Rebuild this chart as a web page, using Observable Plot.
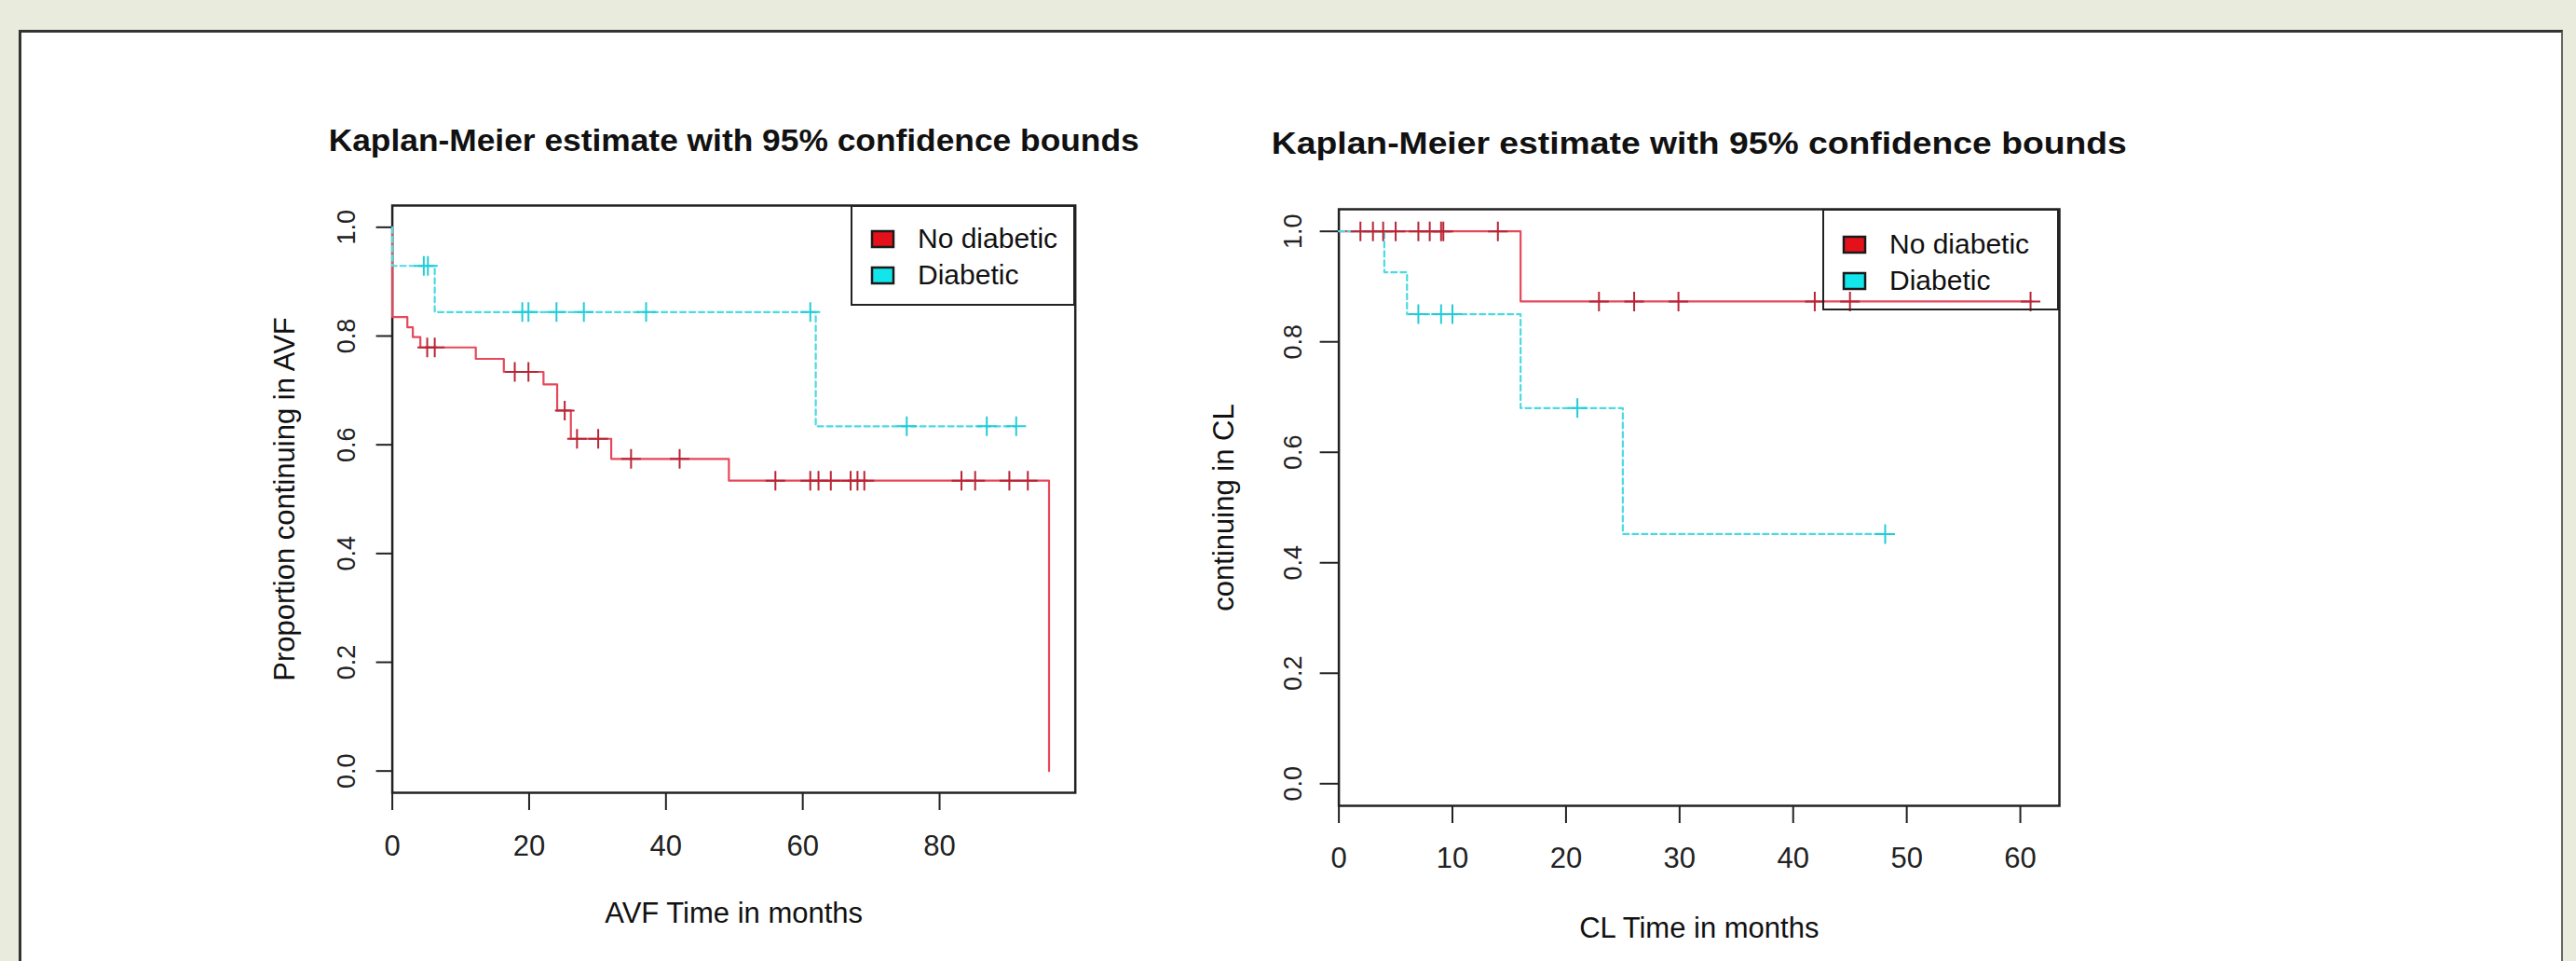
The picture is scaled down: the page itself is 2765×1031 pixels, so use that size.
<!DOCTYPE html>
<html>
<head>
<meta charset="utf-8">
<script src="https://cdn.jsdelivr.net/npm/d3@7"></script>
<script src="https://cdn.jsdelivr.net/npm/@observablehq/plot@0.6"></script>
<style>
html, body { margin: 0; padding: 0; }
body { width: 2765px; height: 1031px; background: #e9ecdd; position: relative; overflow: hidden;
       font-family: "Liberation Sans", Arial, Helvetica, sans-serif; }
#panel { position: absolute; left: 20px; top: 32px; width: 2731px; height: 1100px; background: #fff;
         border-top: 3px solid #333; border-left: 3px solid #333; border-right: 2px solid #666; box-sizing: border-box; }
.chart { position: absolute; top: 0; }
.legendbox { position: absolute; border: 2.5px solid #222; box-sizing: border-box; padding-top: 15px; }
.kmlg-swatch { height: 38px; }
.kmlg-swatch > svg { margin-left: 21px; margin-right: 26px; }
.kmlg-swatch > svg rect { stroke: #1a1a1a; stroke-width: 2.5px; }
.kmlg-swatch-label { color: #111; }
</style>
</head>
<body>
<div id="panel"></div>
<div id="left" class="chart" style="left:0px;width:1290px;"></div>
<div id="right" class="chart" style="left:1290px;width:1475px;"></div>
<div id="legL" class="legendbox" style="left:913px;top:220px;width:241px;height:108px;"></div>
<div id="legR" class="legendbox" style="left:1956px;top:224px;width:254px;height:109px;padding-top:17px;"></div>
<script>
// ---------- data ----------
const groups = ["No diabetic", "Diabetic"];
const titleText = "Kaplan-Meier estimate with 95% confidence bounds";
const yTicks = [0, 0.2, 0.4, 0.6, 0.8, 1.0];

// AVF panel
const avfXTicks = [0, 20, 40, 60, 80];
const avfNoDiabTime = [0, 0, 2.2, 3.0, 4.1, 12.2, 16.3, 22.1, 24.1, 26.1, 32.0, 49.2, 96.0];
const avfNoDiabSurv = [1, 0.835, 0.816, 0.798, 0.779, 0.758, 0.734, 0.711, 0.663, 0.611, 0.574, 0.534, 0];
const avfNoDiabCensor = [5.1, 6.2, 17.9, 19.9, 25.2, 27.0, 30.1, 34.9, 42.0, 56.0, 61.1, 62.3, 64.1, 67.0, 68.0, 69.0, 83.2, 85.2, 90.2, 92.9];
const avfDiabTime = [0, 0, 6.2, 61.9, 91.2];
const avfDiabSurv = [1, 0.929, 0.844, 0.634, 0.634];
const avfDiabCensor = [4.6, 5.2, 19.0, 19.9, 24.0, 28.0, 37.1, 61.1, 75.2, 86.9, 91.2];

// CL panel
const clXTicks = [0, 10, 20, 30, 40, 50, 60];
const clNoDiabTime = [0, 16.0, 61.0];
const clNoDiabSurv = [1, 0.873, 0.873];
const clNoDiabCensor = [1.9, 3.0, 3.9, 5.0, 7.0, 8.0, 9.0, 9.2, 14.0, 22.9, 26.0, 29.9, 41.9, 45.0, 60.9];
const clDiabTime = [0, 4.0, 6.0, 16.0, 25.0, 48.1];
const clDiabSurv = [1, 0.926, 0.850, 0.680, 0.452, 0.452];
const clDiabCensor = [7.0, 9.0, 10.0, 21.0, 48.1];

// ---------- styling ----------
const FONT = "'Liberation Sans', Arial, Helvetica, sans-serif";
const RED_LINE = "#e6485a", RED_MARK = "#b82636";
const CYAN_LINE = "#4cdae2", CYAN_MARK = "#22cdd6";
const SWATCH = ["#e4111b", "#12e6ea"];

const plusSymbol = {
  draw(ctx, size) {
    const r = Math.sqrt(size / Math.PI);
    ctx.moveTo(-r, 0); ctx.lineTo(r, 0);
    ctx.moveTo(0, -r); ctx.lineTo(0, r);
  }
};

function steps(times, survs) { return times.map((t, i) => ({t, s: survs[i]})); }
function censorPts(times, survs, cens) {
  return cens.map(c => {
    let s = survs[0];
    for (let i = 0; i < times.length; i++) if (times[i] <= c) s = survs[i];
    return {t: c, s};
  });
}

function kmPanel(cfg) {
  const svg = Plot.plot({
    width: cfg.width, height: 1031,
    marginLeft: cfg.mL, marginRight: cfg.mR, marginTop: cfg.mT, marginBottom: cfg.mB,
    style: {background: "transparent", fontFamily: FONT, fontSize: "31px", color: "#222", overflow: "visible", maxWidth: "none"},
    x: {domain: [0, cfg.xMax], axis: null},
    y: {domain: [-0.04, 1.04], axis: null},
    marks: [
      Plot.frame({stroke: "#222", strokeWidth: 2.5}),
      Plot.axisX({ticks: cfg.xTicks, tickSize: 19, tickPadding: cfg.xPad, tickFormat: d => String(d), label: null, color: "#222", strokeWidth: 2, fontSize: 31}),
      Plot.axisY({ticks: yTicks, tickSize: cfg.yTick, tickFormat: () => "", label: null, color: "#222", strokeWidth: 2}),
      Plot.text(yTicks, {y: d => d, text: d => d.toFixed(1), frameAnchor: "left", textAnchor: "middle", lineAnchor: "middle", dx: -cfg.yLabOff, rotate: -90, fontSize: 27, fill: "#222"}),
      Plot.text([cfg.ylab], {text: d => d, frameAnchor: "left", textAnchor: "middle", lineAnchor: "middle", dx: -cfg.yTitleOff, rotate: -90, fontSize: 31, fill: "#111"}),
      Plot.text([cfg.xlab], {text: d => d, frameAnchor: "bottom", dy: cfg.xTitleOff, lineAnchor: "top", fontSize: 31, fill: "#111"}),
      Plot.text([titleText], {text: d => d, frameAnchor: "top", dy: cfg.titleOff, lineAnchor: "middle", fontSize: 33, fontWeight: "bold", fill: "#111"}),
      Plot.line(steps(cfg.nTime, cfg.nSurv), {x: "t", y: "s", curve: "step-after", stroke: RED_LINE, strokeWidth: 2.2}),
      Plot.line(steps(cfg.dTime, cfg.dSurv), {x: "t", y: "s", curve: "step-after", stroke: CYAN_LINE, strokeWidth: 2.2, strokeDasharray: "6,4"}),
      Plot.dot(censorPts(cfg.nTime, cfg.nSurv, cfg.nCens), {x: "t", y: "s", symbol: plusSymbol, r: 10.5, stroke: RED_MARK, fill: "none", strokeWidth: 2}),
      Plot.dot(censorPts(cfg.dTime, cfg.dSurv, cfg.dCens), {x: "t", y: "s", symbol: plusSymbol, r: 10.5, stroke: CYAN_MARK, fill: "none", strokeWidth: 2})
    ]
  });
  svg.querySelectorAll("text").forEach(t => {
    if (t.textContent === titleText) {
      t.setAttribute("textLength", cfg.titleLen);
      t.setAttribute("lengthAdjust", "spacingAndGlyphs");
    }
  });
  return svg;
}

document.getElementById("left").appendChild(kmPanel({
  width: 1290, mL: 420.6, mR: 1290 - 1153.7, mT: 220, mB: 1031 - 850,
  xMax: 96 * 1.04, xTicks: avfXTicks, xPad: 26, yTick: 17, yLabOff: 49, yTitleOff: 115,
  xTitleOff: 117, titleOff: -69, titleLen: 870,
  ylab: "Proportion continuing in AVF", xlab: "AVF Time in months",
  nTime: avfNoDiabTime, nSurv: avfNoDiabSurv, nCens: avfNoDiabCensor,
  dTime: avfDiabTime, dSurv: avfDiabSurv, dCens: avfDiabCensor
}));

document.getElementById("right").appendChild(kmPanel({
  width: 1475, mL: 1436.6 - 1290, mR: 1475 - (2210 - 1290), mT: 224, mB: 1031 - 864,
  xMax: 61 * 1.04, xTicks: clXTicks, xPad: 25, yTick: 20, yLabOff: 49, yTitleOff: 123,
  xTitleOff: 119, titleOff: -70, titleLen: 918,
  ylab: "continuing in CL", xlab: "CL Time in months",
  nTime: clNoDiabTime, nSurv: clNoDiabSurv, nCens: clNoDiabCensor,
  dTime: clDiabTime, dSurv: clDiabSurv, dCens: clDiabCensor
}));

function makeLegend() {
  return Plot.legend({
    color: {type: "ordinal", domain: groups, range: SWATCH},
    columns: 1, swatchWidth: 23, swatchHeight: 17, className: "kmlg",
    style: {fontSize: "30px", fontFamily: FONT, marginBottom: "0px"}
  });
}
document.getElementById("legL").appendChild(makeLegend());
document.getElementById("legR").appendChild(makeLegend());
</script>
</body>
</html>
